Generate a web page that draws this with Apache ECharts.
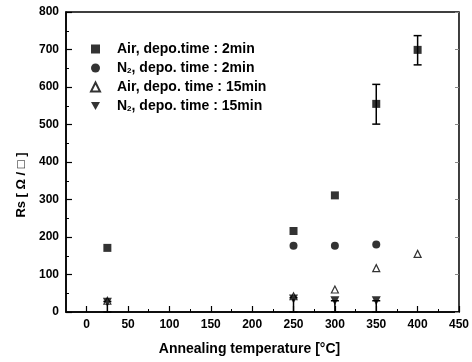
<!DOCTYPE html>
<html>
<head>
<meta charset="utf-8">
<script src="https://cdn.jsdelivr.net/npm/echarts@6/dist/echarts.min.js"></script>
<style>
  html, body { margin: 0; padding: 0; background: #fff; }
  #chart { width: 472px; height: 362px; }
</style>
</head>
<body>
<div id="chart"></div>
<script>
// data
const airTemp2 = [25, 250, 300, 350, 400];
const airRs2 = [171, 216, 311, 555, 699];
const n2Temp2 = [250, 300, 350];
const n2Rs2 = [177, 177, 180];
const airTemp15 = [25, 250, 300, 350, 400];
const airRs15 = [30, 42, 60, 117, 155];
const n2Temp15 = [25, 250, 300, 350];
const n2Rs15 = [26, 35, 30, 30];
// error bars
const errTemp = [350, 400, 25, 250, 300, 350];
const errLow = [501, 659, 0, 0, 0, 0];
const errHigh = [607, 737, 28, 38, 30, 30];
// ticks
const xMajor = [0, 50, 100, 150, 200, 250, 300, 350, 400, 450];
const xMinor = [25, 75, 125, 175, 225, 275, 325, 375, 425];

const FONT = 'Liberation Sans';
const pairs = (xs, ys) => xs.map((x, i) => [x, ys[i]]);

const chart = echarts.init(document.getElementById('chart'));

const option = {
  backgroundColor: '#fff',
  animation: false,
  textStyle: { fontFamily: FONT, color: '#000' },
  grid: {
    left: 66, right: 13, top: 12, bottom: 50,
    show: true, borderColor: '#000', borderWidth: 1.5,
  },
  legend: {
    orient: 'vertical',
    left: 85,
    top: 37,
    itemWidth: 9,
    itemHeight: 9,
    itemGap: 5,
    textStyle: {
      fontFamily: FONT, fontWeight: 'bold', fontSize: 14, color: '#000',
      padding: [0, 0, 0, 12], lineHeight: 14,
      rich: {
        s: { fontFamily: FONT, fontWeight: 'bold', fontSize: 8, verticalAlign: 'bottom', padding: [6, 0, 0, 0] },
      },
    },
    formatter: (name) => name.replace('N2', 'N{s|2}'),
    data: [
      'Air, depo.time : 2min',
      'N2, depo. time : 2min',
      'Air, depo. time : 15min',
      'N2, depo. time : 15min',
    ],
  },
  xAxis: [{
    type: 'value',
    min: -25,
    max: 450,
    position: 'bottom',
    splitLine: { show: false },
    axisLine: { onZero: false, lineStyle: { color: '#000', width: 1.5 } },
    axisTick: { inside: true, length: 6, lineStyle: { color: '#000', width: 1.2 }, customValues: xMajor },
    axisLabel: {
      customValues: xMajor, margin: 7,
      fontFamily: FONT, fontWeight: 'bold', fontSize: 12, color: '#000',
    },
    name: 'Annealing temperature [°C]',
    nameLocation: 'middle',
    nameGap: 30,
    nameTextStyle: {
      fontFamily: FONT, fontWeight: 'bold', fontSize: 14, color: '#000',
      padding: [0, 26, 0, 0],
    },
  }, {
    type: 'value',
    min: -25,
    max: 450,
    position: 'bottom',
    splitLine: { show: false },
    axisLine: { show: false, onZero: false },
    axisTick: { inside: true, length: 3, lineStyle: { color: '#000', width: 1 }, customValues: xMinor },
    axisLabel: { show: false },
  }],
  yAxis: [{
    type: 'value',
    min: 0,
    max: 800,
    interval: 100,
    splitLine: { show: false },
    axisLine: { onZero: false, lineStyle: { color: '#000', width: 1.5 } },
    axisTick: { inside: true, length: 6, lineStyle: { color: '#000', width: 1.2 } },
    minorTick: { show: true, splitNumber: 2, length: 3, lineStyle: { color: '#000' } },
    axisLabel: { margin: 7, fontFamily: FONT, fontWeight: 'bold', fontSize: 12, color: '#000' },
    name: 'Rs [ Ω / □ ]',
    nameLocation: 'middle',
    nameGap: 35,
    nameTextStyle: {
      fontFamily: FONT, fontWeight: 'bold', fontSize: 13, color: '#000',
      padding: [0, 46, 0, 0],
    },
  }, {
    type: 'value',
    min: 0,
    max: 800,
    interval: 100,
    position: 'right',
    splitLine: { show: false },
    axisLine: { show: false, onZero: false },
    axisTick: { inside: true, length: 4, lineStyle: { color: '#888' } },
    axisLabel: { show: false },
  }],
  series: [
    {
      name: 'Air, depo.time : 2min',
      type: 'scatter',
      symbol: 'rect',
      symbolSize: 8,
      itemStyle: { color: '#000' },
      data: pairs(airTemp2, airRs2),
      z: 5,
    },
    {
      name: 'N2, depo. time : 2min',
      type: 'scatter',
      symbol: 'circle',
      symbolSize: 8,
      itemStyle: { color: '#000' },
      data: pairs(n2Temp2, n2Rs2),
      z: 5,
    },
    {
      name: 'Air, depo. time : 15min',
      type: 'scatter',
      symbol: 'triangle',
      symbolSize: 7,
      itemStyle: { color: '#fff', borderColor: '#000', borderWidth: 1.2 },
      data: pairs(airTemp15, airRs15),
      z: 5,
    },
    {
      name: 'N2, depo. time : 15min',
      type: 'scatter',
      symbol: 'path://M0,0 L10,0 L5,9 Z',
      symbolSize: 9,
      itemStyle: { color: '#000' },
      data: pairs(n2Temp15, n2Rs15),
      z: 5,
    },
    {
      type: 'custom',
      silent: true,
      z: 4,
      data: errTemp.map((t, i) => [t, errLow[i], errHigh[i]]),
      renderItem: (params, api) => {
        const lo = api.coord([api.value(0), api.value(1)]);
        const hi = api.coord([api.value(0), api.value(2)]);
        const w = 4;
        const style = { stroke: '#000', lineWidth: 1.5 };
        return {
          type: 'group',
          children: [
            { type: 'line', shape: { x1: lo[0], y1: lo[1], x2: hi[0], y2: hi[1] }, style },
            { type: 'line', shape: { x1: hi[0] - w, y1: hi[1], x2: hi[0] + w, y2: hi[1] }, style },
            { type: 'line', shape: { x1: lo[0] - w, y1: lo[1], x2: lo[0] + w, y2: lo[1] }, style },
          ],
        };
      },
    },
  ],
};

chart.setOption(option);
</script>
</body>
</html>
